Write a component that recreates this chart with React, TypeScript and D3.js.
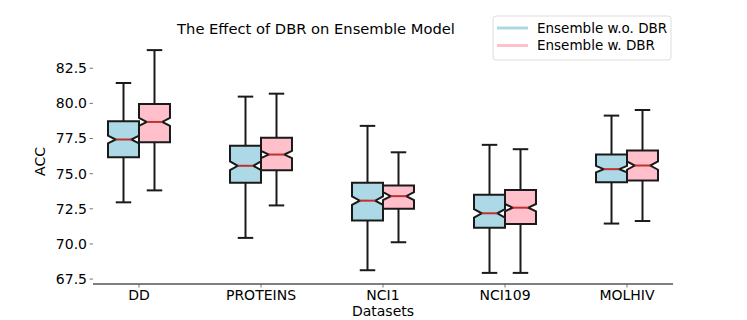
import React from "react";
import * as d3 from "d3";

const datasets = ["DD", "PROTEINS", "NCI1", "NCI109", "MOLHIV"];
const seriesNames = ["Ensemble w.o. DBR", "Ensemble w. DBR"];
const seriesColors = ["#add8e6", "#ffc0cb"];

// per-dataset stats
const woLow = [72.96, 70.43, 68.13, 67.94, 71.45];
const woQ1 = [76.17, 74.35, 71.66, 71.16, 74.38];
const woMed = [77.43, 75.56, 73.08, 72.18, 75.32];
const woQ3 = [78.72, 76.98, 74.35, 73.5, 76.36];
const woHigh = [81.45, 80.48, 78.4, 77.05, 79.13];
const woNotch = [0.28, 0.31, 0.3, 0.3, 0.23];

const wLow = [73.81, 72.74, 70.12, 67.94, 71.63];
const wQ1 = [77.23, 75.25, 72.51, 71.42, 74.52];
const wMed = [78.68, 76.36, 73.4, 72.58, 75.58];
const wQ3 = [79.96, 77.55, 74.16, 73.83, 76.65];
const wHigh = [83.79, 80.69, 76.52, 76.74, 79.53];
const wNotch = [0.28, 0.26, 0.28, 0.26, 0.3];

const yTicks = [67.5, 70.0, 72.5, 75.0, 77.5, 80.0, 82.5];

const W = 747;
const H = 320;
const left = 93;
const right = 673;
const top = 39;
const bottom = 284;
const font = "DejaVu Sans, sans-serif";

export default function App() {
  const x = d3.scalePoint<string>().domain(datasets).range([left, right]).padding(0.377);
  const y = d3.scaleLinear().domain([67.15, 84.58]).range([bottom, top]);
  const step = x.step();
  const bw = step * 0.254;

  const series = [
    { low: woLow, q1: woQ1, med: woMed, q3: woQ3, high: woHigh, notch: woNotch },
    { low: wLow, q1: wQ1, med: wMed, q3: wQ3, high: wHigh, notch: wNotch },
  ];

  const boxes: React.ReactNode[] = [];
  series.forEach((s, si) => {
    datasets.forEach((d, i) => {
      const c = (x(d) as number) + (si === 0 ? -bw / 2 : bw / 2);
      const l = c - bw / 2;
      const r = c + bw / 2;
      const cl = c - bw / 4;
      const cr = c + bw / 4;
      const path = d3.path();
      path.moveTo(l, y(s.q1[i]));
      path.lineTo(r, y(s.q1[i]));
      path.lineTo(r, y(s.med[i] - s.notch[i]));
      path.lineTo(cr, y(s.med[i]));
      path.lineTo(r, y(s.med[i] + s.notch[i]));
      path.lineTo(r, y(s.q3[i]));
      path.lineTo(l, y(s.q3[i]));
      path.lineTo(l, y(s.med[i] + s.notch[i]));
      path.lineTo(cl, y(s.med[i]));
      path.lineTo(l, y(s.med[i] - s.notch[i]));
      path.closePath();
      boxes.push(
        <g key={`${si}-${d}`}>
          <line x1={c} x2={c} y1={y(s.q3[i])} y2={y(s.high[i])} stroke="#1a1a1a" strokeWidth={2} />
          <line x1={c} x2={c} y1={y(s.q1[i])} y2={y(s.low[i])} stroke="#1a1a1a" strokeWidth={2} />
          <line x1={cl} x2={cr} y1={y(s.high[i])} y2={y(s.high[i])} stroke="#1a1a1a" strokeWidth={2} />
          <line x1={cl} x2={cr} y1={y(s.low[i])} y2={y(s.low[i])} stroke="#1a1a1a" strokeWidth={2} />
          <path d={path.toString()} fill={seriesColors[si]} stroke="#1a1a1a" strokeWidth={2} strokeLinejoin="miter" />
          <line x1={cl} x2={cr} y1={y(s.med[i])} y2={y(s.med[i])} stroke="#c0302f" strokeWidth={2} />
        </g>
      );
    });
  });

  return (
    <svg width={W} height={H} style={{ position: "absolute", left: 0, top: 0 }} fontFamily={font}>
      <rect width={W} height={H} fill="white" />
      <text x={316} y={34} textAnchor="middle" fontSize={14.7} fill="#000">
        The Effect of DBR on Ensemble Model
      </text>
      {yTicks.map((t) => (
        <g key={t}>
          <line x1={left - 3.5} x2={left} y1={y(t)} y2={y(t)} stroke="#555" strokeWidth={0.8} />
          <text x={left - 6} y={y(t)} dy="0.35em" textAnchor="end" fontSize={14} fill="#000">
            {t.toFixed(1)}
          </text>
        </g>
      ))}
      <text transform={`translate(45,${(top + bottom) / 2}) rotate(-90)`} textAnchor="middle" fontSize={14} fill="#000">
        ACC
      </text>
      <line x1={left} x2={right} y1={bottom} y2={bottom} stroke="#000" strokeWidth={1} />
      {datasets.map((d) => (
        <g key={d}>
          <line x1={x(d)} x2={x(d)} y1={bottom} y2={bottom + 3.5} stroke="#555" strokeWidth={0.8} />
          <text x={x(d)} y={bottom + 16} textAnchor="middle" fontSize={14} fill="#000">
            {d}
          </text>
        </g>
      ))}
      <text x={(left + right) / 2} y={H - 4.5} textAnchor="middle" fontSize={14} fill="#000">
        Datasets
      </text>
      {boxes}
      <g>
        <rect x={493} y={16} width={178} height={44} rx={3} fill="white" stroke="#ddd" strokeWidth={1} />
        {seriesNames.map((n, i) => (
          <g key={n}>
            <line x1={497} x2={528} y1={28 + i * 17.5} y2={28 + i * 17.5} stroke={seriesColors[i]} strokeWidth={3} />
            <text x={537} y={28 + i * 17.5} dy="0.35em" fontSize={13.5} fill="#000">
              {n}
            </text>
          </g>
        ))}
      </g>
    </svg>
  );
}
